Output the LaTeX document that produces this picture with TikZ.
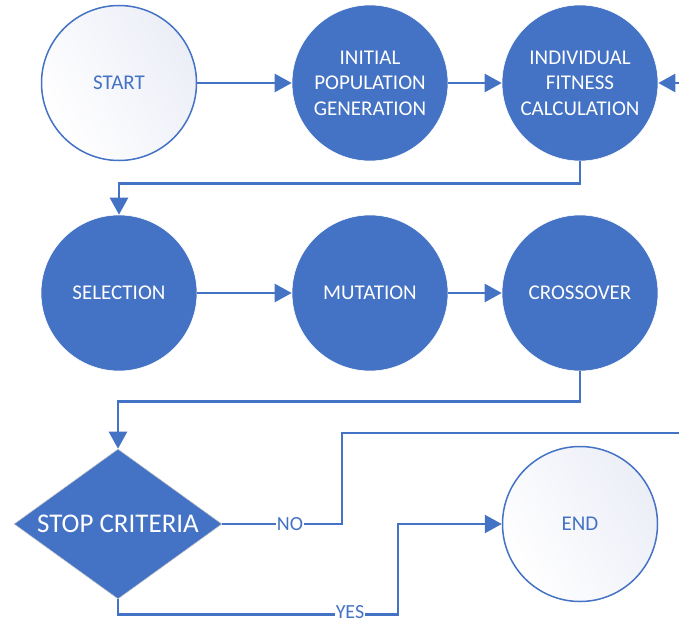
\documentclass[tikz,border=0pt]{standalone}
\usepackage{fontspec}
\setmainfont{Carlito}
\usetikzlibrary{arrows.meta,shapes.geometric}
\definecolor{obl}{HTML}{4472C4}
\definecolor{lav}{HTML}{ECEEF7}
\tikzset{
  filled/.style={circle, minimum size=156pt, inner sep=0pt, fill=obl, draw=white, line width=0.6pt, text=white, align=center, font=\fontsize{21}{25.5}\selectfont},
  hollow/.style={circle, minimum size=155pt, inner sep=0pt, draw=obl, line width=1.5pt, left color=lav, right color=white, shading angle=-60, text=obl, align=center, font=\fontsize{21}{25.5}\selectfont},
  decision/.style={diamond, aspect=1.39, minimum width=208pt, minimum height=150pt, inner sep=0pt, fill=obl, draw=black!20, line width=0.6pt, text=white, font=\fontsize{27}{30}\selectfont},
  conn/.style={draw=obl, line width=2.5pt, -{Triangle[length=17pt,width=18pt]}},
  plain/.style={draw=obl, line width=2.5pt},
  lbl/.style={fill=white, text=obl, inner sep=1pt, text depth=0pt, font=\fontsize{20}{22}\selectfont}
}
\begin{document}
\begin{tikzpicture}[x=1pt,y=-1pt]
\useasboundingbox (0,0) rectangle (679,623);
\node[hollow] (start) at (119,83) {START};
\node[filled] (init) at (370,83) {INITIAL\\POPULATION\\GENERATION};
\node[filled] (fit) at (580,83) {INDIVIDUAL\\FITNESS\\CALCULATION};
\node[filled] (sel) at (119,293) {SELECTION};
\node[filled] (mut) at (370,293) {MUTATION};
\node[filled] (cross) at (580,293) {CROSSOVER};
\node[decision] (stop) at (118,524) {STOP CRITERIA};
\node[hollow] (end) at (580,524) {END};
\coordinate (loopout) at (679,433);
\coordinate (loopin) at (679,83);

\draw[conn] (start) -- (init);
\draw[conn] (init) -- (fit);
\draw[conn] (loopin) -- (fit.east);
\draw[conn] (fit.south) -- ++(0,22) -| (sel.north);
\draw[conn] (sel) -- (mut);
\draw[conn] (mut) -- (cross);
\draw[conn] (cross.south) -- ++(0,30) -| (stop.north);
\draw[plain] (stop.east) -- (342,524) |- (loopout);
\draw[conn] (stop.south) -- ++(0,15) -| (398,524) -- (end.west);
\node[lbl] (no) at (290,524) {NO};
\node[lbl] (yes) at (350,612) {YES};
\end{tikzpicture}
\end{document}
